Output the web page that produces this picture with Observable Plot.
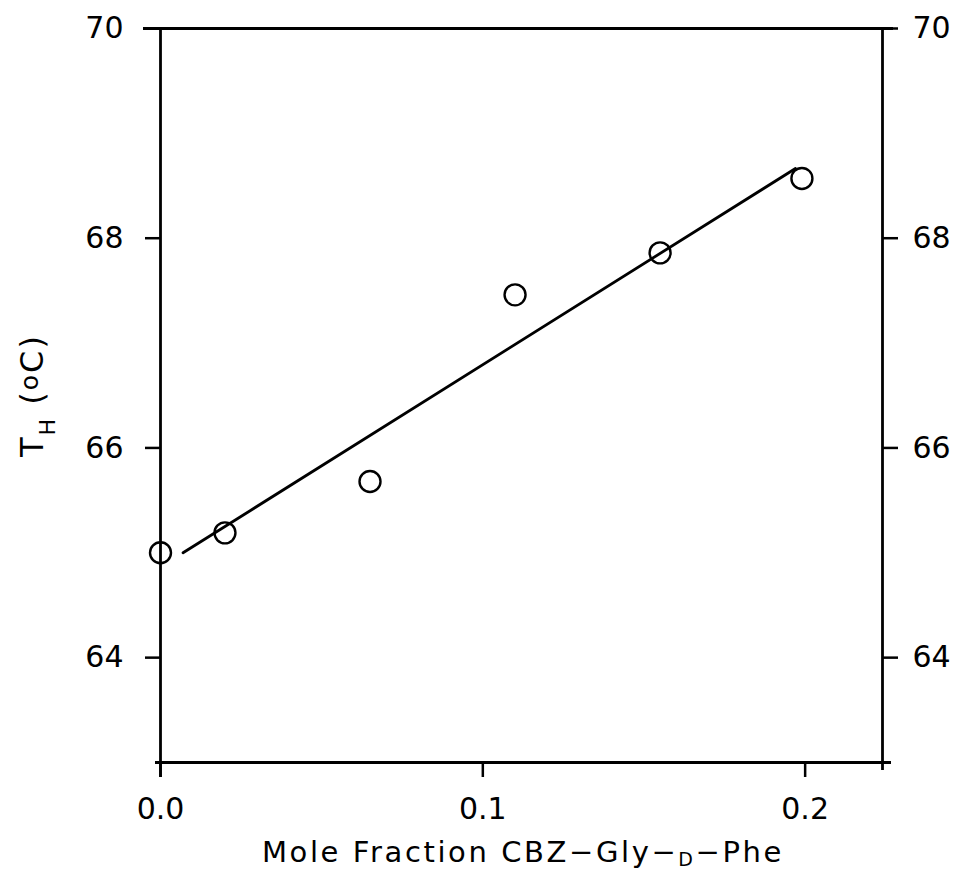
<!DOCTYPE html>
<html>
<head>
<meta charset="utf-8">
<script src="https://cdn.jsdelivr.net/npm/d3@7"></script>
<script src="https://cdn.jsdelivr.net/npm/@observablehq/plot@0.6"></script>
<style>
  html, body { margin: 0; padding: 0; background: #fff; }
  #chart svg { display: block; }
</style>
</head>
<body>
<div id="chart"></div>
<script>
// Data
const moleFraction = [0.0, 0.02, 0.065, 0.11, 0.155, 0.199];
const tH = [65.0, 65.19, 65.68, 67.46, 67.86, 68.57];
// Fitted straight line (end points)
const fitX = [0.007, 0.197];
const fitY = [65.0, 68.665];
// Axis ticks and domains
const xTicks = [0.0, 0.1, 0.2];
const yTicks = [64, 66, 68, 70];
const xDomain = [0, 0.224];
const yDomain = [63, 70];

const points = moleFraction.map((x, i) => ({x, y: tH[i]}));
const fitLine = fitX.map((x, i) => ({x, y: fitY[i]}));

const font = "DejaVu Sans, sans-serif";

const plot = Plot.plot({
  width: 962,
  height: 896,
  marginLeft: 160,
  marginRight: 80,
  marginTop: 28,
  marginBottom: 134,
  style: {fontFamily: font, background: "#fff", color: "#000", overflow: "visible"},
  x: {domain: xDomain},
  y: {domain: yDomain},
  marks: [
    // frame lines (slightly overshooting, as in the plotter original)
    Plot.ruleY([yDomain[1]], {stroke: "#000", strokeWidth: 2.8, insetLeft: -17, insetRight: -11}),
    Plot.ruleY([yDomain[0]], {stroke: "#000", strokeWidth: 2.8, insetLeft: -5, insetRight: -9}),
    Plot.ruleX([xDomain[0]], {stroke: "#000", strokeWidth: 2.8, insetBottom: -15}),
    Plot.ruleX([xDomain[1]], {stroke: "#000", strokeWidth: 2.8, insetBottom: -8}),
    Plot.axisX({ticks: xTicks, tickSize: 15, tickPadding: 20, tickFormat: d3.format(".1f"),
      fontSize: 30, strokeWidth: 2.5, label: null}),
    Plot.axisY({anchor: "left", ticks: yTicks, tickSize: 15, tickPadding: 22, tickFormat: d3.format("d"),
      fontSize: 30, strokeWidth: 2.5, label: null}),
    Plot.axisY({anchor: "right", ticks: yTicks, tickSize: 15, tickPadding: 15, tickFormat: d3.format("d"),
      fontSize: 30, strokeWidth: 2.5, label: null}),
    Plot.line(fitLine, {x: "x", y: "y", stroke: "#000", strokeWidth: 2.8}),
    Plot.dot(points, {x: "x", y: "y", r: 10.5, stroke: "#000", strokeWidth: 2.4, fill: "none"})
  ]
});

document.getElementById("chart").appendChild(plot);

// Axis titles with sub/superscripts, drawn as real text
const svg = d3.select(plot);
const xl = svg.append("text")
  .attr("x", 523).attr("y", 862)
  .attr("text-anchor", "middle")
  .attr("font-family", font)
  .attr("font-size", 29)
  .attr("letter-spacing", 2.6)
  .attr("fill", "#000");
xl.append("tspan").text("Mole Fraction CBZ\u2212Gly\u2212");
xl.append("tspan").attr("font-size", 19).attr("dy", 4).text("D");
xl.append("tspan").attr("dy", -4).text("\u2212Phe");

const yl = svg.append("text")
  .attr("transform", "translate(43,457) rotate(-90)")
  .attr("text-anchor", "start")
  .attr("font-family", font)
  .attr("font-size", 32)
  .attr("letter-spacing", 2)
  .attr("fill", "#000");
yl.append("tspan").text("T");
yl.append("tspan").attr("font-size", 22).attr("dy", 12).text("H");
yl.append("tspan").attr("dy", -12).text(" (");
yl.append("tspan").attr("font-size", 25).attr("dy", -5).text("o");
yl.append("tspan").attr("dy", 5).text("C)");
</script>
</body>
</html>
